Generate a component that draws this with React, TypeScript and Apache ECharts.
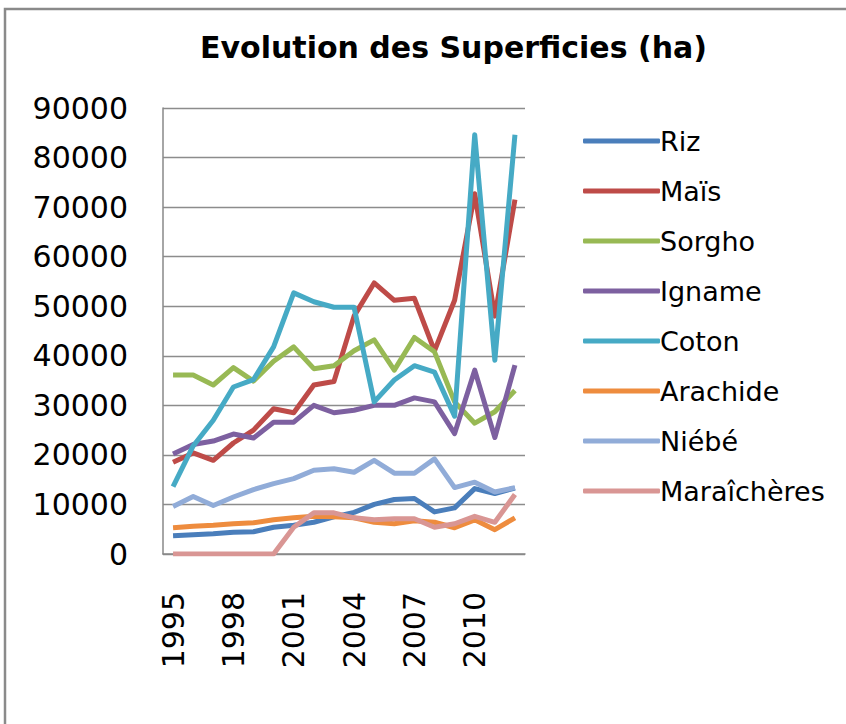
import React, { useEffect, useRef } from "react";
import * as echarts from "echarts";

const years = ["1995","1996","1997","1998","1999","2000","2001","2002","2003","2004","2005","2006","2007","2008","2009","2010","2011","2012"];
const seriesNames = ["Riz","Maïs","Sorgho","Igname","Coton","Arachide","Niébé","Maraîchères"];
const riz = [3700, 3900, 4100, 4400, 4500, 5400, 5800, 6400, 7500, 8400, 10000, 11000, 11200, 8500, 9300, 13200, 12200, 13300];
const mais = [18500, 20400, 18900, 22400, 25000, 29300, 28500, 34100, 34800, 48000, 54700, 51200, 51600, 41000, 51200, 72700, 48000, 71500];
const sorgho = [36100, 36100, 34100, 37600, 34900, 38900, 41800, 37400, 38000, 41000, 43200, 37100, 43700, 40800, 30700, 26400, 28700, 33000];
const igname = [20200, 22100, 22800, 24200, 23400, 26600, 26600, 30000, 28500, 29000, 30000, 30000, 31500, 30700, 24300, 37100, 23500, 38100];
const coton = [13600, 21800, 27000, 33700, 35200, 41800, 52700, 50900, 49800, 49800, 30700, 35100, 38000, 36700, 27800, 84600, 39100, 84600];
const arachide = [5300, 5600, 5800, 6100, 6300, 6900, 7300, 7600, 7500, 7300, 6400, 6100, 6700, 6400, 5300, 6900, 4900, 7300];
const niebe = [9600, 11600, 9800, 11500, 13000, 14200, 15200, 16900, 17200, 16500, 18900, 16300, 16300, 19200, 13400, 14500, 12500, 13400];
const maraicheres = [0, 0, 0, 0, 0, 0, 5400, 8300, 8300, 7300, 6900, 7100, 7100, 5400, 6100, 7600, 6400, 12000];
const yTicks = { min: 0, max: 90000, interval: 10000 };
const colors = ["#4A7EBB", "#BE4B48", "#98B954", "#7D60A0", "#46AAC5", "#EE8C3E", "#91ACD8", "#D99694"];

export default function App() {
  const ref = useRef<HTMLDivElement>(null);
  useEffect(() => {
    if (!ref.current) return;
    const chart = echarts.init(ref.current, null, { renderer: "svg" });
    const data = [riz, mais, sorgho, igname, coton, arachide, niebe, maraicheres];
    const font = "DejaVu Sans";
    chart.setOption({
      animation: false,
      backgroundColor: "#ffffff",
      title: {
        text: "Evolution des Superficies (ha)",
        left: 195,
        top: 27,
        textStyle: { fontFamily: font, fontSize: 30, fontWeight: "bold", color: "#000" },
      },
      graphic: [
        {
          type: "rect",
          shape: { x: 5, y: 9, width: 1000, height: 1000 },
          style: { fill: "none", stroke: "#8a8a8a", lineWidth: 2.5 },
          silent: true,
        },
      ],
      legend: {
        orient: "vertical",
        left: 578,
        top: 121,
        icon: "roundRect",
        itemWidth: 77,
        itemHeight: 5,
        itemGap: 20,
        data: seriesNames,
        textStyle: { fontFamily: font, fontSize: 27, color: "#000", lineHeight: 30, padding: [0, 0, 0, -5] },
      },
      grid: { left: 163, right: 321, top: 108, bottom: 170 },
      xAxis: {
        type: "category",
        data: years,
        boundaryGap: true,
        axisLine: { lineStyle: { color: "#888", width: 1.5 } },
        axisTick: { show: false },
        axisLabel: {
          interval: 2,
          rotate: 90,
          margin: 38,
          fontFamily: font,
          fontSize: 30,
          color: "#000",
        },
        splitLine: { show: false },
      },
      yAxis: {
        type: "value",
        min: yTicks.min,
        max: yTicks.max,
        interval: yTicks.interval,
        axisLine: { show: true, lineStyle: { color: "#888", width: 1.5 } },
        axisTick: { show: false },
        axisLabel: {
          margin: 35,
          fontFamily: font,
          fontSize: 30,
          color: "#000",
          formatter: (v: number) => String(v),
        },
        splitLine: { lineStyle: { color: "#8c8c8c", width: 1.3 } },
      },
      series: seriesNames.map((name, i) => ({
        name,
        type: "line",
        data: data[i],
        symbol: "none",
        lineStyle: { width: 5, color: colors[i], join: "round" },
        itemStyle: { color: colors[i] },
      })),
    });
    return () => chart.dispose();
  }, []);
  return <div ref={ref} style={{ position: "absolute", left: 0, top: 0, width: 846, height: 724 }} />;
}
